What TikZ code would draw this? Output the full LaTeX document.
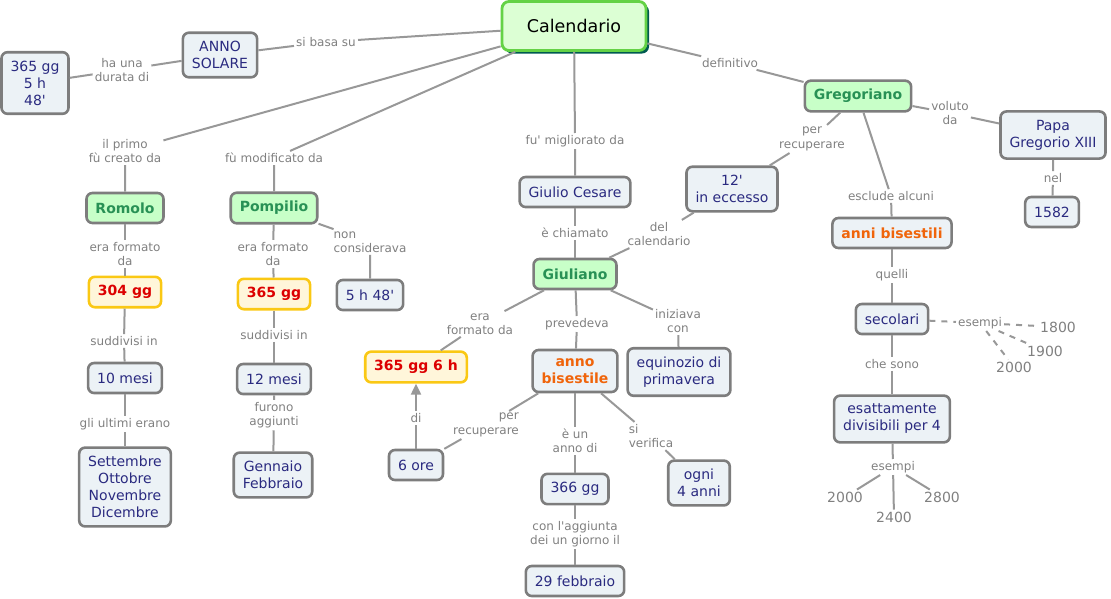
\documentclass[tikz,border=0pt]{standalone}
\usepackage{fontspec}
\setmainfont{DejaVu Sans}
\usepackage{tikz}
\usetikzlibrary{arrows.meta, shadows}
\definecolor{bordo}{RGB}{125,125,125}
\definecolor{sfondo}{RGB}{236,242,246}
\definecolor{blu}{RGB}{42,42,128}
\definecolor{verdino}{RGB}{200,255,200}
\definecolor{verdone}{RGB}{40,145,85}
\definecolor{giallo}{RGB}{250,200,20}
\definecolor{crema}{RGB}{255,246,218}
\definecolor{rosso}{RGB}{220,0,0}
\definecolor{arancio}{RGB}{240,100,10}
\definecolor{grigio}{RGB}{128,128,128}
\definecolor{linea}{RGB}{152,152,152}
\definecolor{radicefill}{RGB}{220,255,212}
\definecolor{radicebordo}{RGB}{100,210,70}
\definecolor{ombra}{RGB}{0,90,80}
\newcommand{\ap}{\textquotesingle}

\tikzset{
    concetto/.style={draw=bordo, line width=2.6pt, rounded corners=6pt, fill=sfondo, text=blu,
        font=\fontsize{14}{17}\selectfont, align=center, inner xsep=9pt, inner ysep=8.5pt, minimum height=30pt},
    persona/.style={concetto, fill=verdino, text=verdone, font=\fontsize{14}{17}\selectfont\bfseries},
    durata/.style={concetto, draw=giallo, fill=crema, text=rosso, font=\fontsize{14}{17}\selectfont\bfseries},
    bisest/.style={concetto, text=arancio, font=\fontsize{14}{17}\selectfont\bfseries},
    radice/.style={draw=radicebordo, line width=2.8pt, rounded corners=7pt, fill=radicefill,
        font=\fontsize{17.5}{20}\selectfont, minimum width=144pt, minimum height=49pt,
        drop shadow={shadow xshift=3pt, shadow yshift=-3pt, fill=ombra, opacity=1}},
    parola/.style={text=grigio, font=\fontsize{12}{14.5}\selectfont, align=center, inner sep=2pt},
    esempio/.style={text=grigio, font=\fontsize{14}{17}\selectfont, inner sep=2pt},
    legame/.style={draw=linea, line width=2pt},
}

\begin{document}
\begin{tikzpicture}[x=1pt, y=-1pt]
    \useasboundingbox (0,0) rectangle (1111,598);

    % Concepts
    \node[radice] (cal) at (574,26) {Calendario};
    \node[concetto] (anno) at (220,55) {ANNO\\SOLARE};
    \node[concetto] (durata) at (35,83) {365 gg\\5 h\\48\ap};
    \node[persona] (romolo) at (125,208) {Romolo};
    \node[persona] (pomp) at (274,208) {Pompilio};
    \node[concetto] (cinque) at (370,295) {5 h 48\ap};
    \node[durata] (g304) at (125,292) {304 gg};
    \node[durata] (g365) at (274,294) {365 gg};
    \node[concetto] (m10) at (125,378) {10 mesi};
    \node[concetto] (m12) at (274,379) {12 mesi};
    \node[concetto] (mesiq) at (125,487) {Settembre\\Ottobre\\Novembre\\Dicembre};
    \node[concetto] (genfeb) at (273,475) {Gennaio\\Febbraio};
    \node[concetto] (giulio) at (575,192) {Giulio Cesare};
    \node[persona] (giuliano) at (575,274) {Giuliano};
    \node[durata] (g365h) at (416,367) {365 gg 6 h};
    \node[concetto] (ore) at (416,465) {6 ore};
    \node[bisest] (bis) at (575,371) {anno\\bisestile};
    \node[concetto] (equi) at (679,372) {equinozio di\\primavera};
    \node[concetto] (g366) at (575,489) {366 gg};
    \node[concetto] (ogni) at (699,483) {ogni\\4 anni};
    \node[concetto] (feb29) at (575,581) {29 febbraio};
    \node[persona] (greg) at (858,96) {Gregoriano};
    \node[concetto] (papa) at (1053,135) {Papa\\Gregorio XIII};
    \node[concetto] (a1582) at (1052,212) {1582};
    \node[concetto] (eccesso) at (732,189) {12\ap\\in eccesso};
    \node[bisest] (anni) at (892,233) {anni bisestili};
    \node[concetto] (sec) at (892,319) {secolari};
    \node[concetto] (div) at (892,419) {esattamente\\divisibili per 4};

    % Examples
    \node[esempio] (n1800) at (1058,327) {1800};
    \node[esempio] (n1900) at (1045,351) {1900};
    \node[esempio] (n2000a) at (1014,367) {2000};
    \node[esempio] (n2000b) at (845,497) {2000};
    \node[esempio] (n2400) at (894,517) {2400};
    \node[esempio] (n2800) at (942,497) {2800};

    % Linking phrases
    \node[parola] (l1) at (326,42) {si basa su};
    \node[parola] (l2) at (122,70) {ha una\\durata di};
    \node[parola] (l3) at (125,151) {il primo\\fù creato da};
    \node[parola] (l4) at (274,158) {fù modificato da};
    \node[parola] (l5) at (125,254) {era formato\\da};
    \node[parola] (l6) at (273,254) {era formato\\da};
    \node[parola, align=left] (l7) at (370,242) {non\\considerava};
    \node[parola] (l8) at (124,341) {suddivisi in};
    \node[parola] (l9) at (274,335) {suddivisi in};
    \node[parola] (l10) at (125,424) {gli ultimi erano};
    \node[parola] (l11) at (274,415) {furono\\aggiunti};
    \node[parola] (l12) at (575,141) {fu\ap{} migliorato da};
    \node[parola] (l13) at (575,233) {è chiamato};
    \node[parola] (l14) at (480,324) {era\\formato da};
    \node[parola] (l15) at (577,324) {prevedeva};
    \node[parola] (l16) at (678,321) {iniziava\\con};
    \node[parola] (l17) at (659,234) {del\\calendario};
    \node[parola] (l18) at (416,418) {di};
    \node[parola, align=right] (l19) at (486,425) {per\\recuperare};
    \node[parola] (l20) at (575,441) {è un\\anno di};
    \node[parola, align=left] (l21) at (651,436) {si\\verifica};
    \node[parola] (l22) at (575,534) {con l\ap aggiunta\\dei un giorno il};
    \node[parola] (l23) at (730,63) {definitivo};
    \node[parola] (l24) at (950,113) {voluto\\da};
    \node[parola] (l25) at (1053,178) {nel};
    \node[parola] (l26) at (812,139) {per\\recuperare};
    \node[parola] (l27) at (891,196) {esclude alcuni};
    \node[parola] (l28) at (892,275) {quelli};
    \node[parola] (l29) at (892,364) {che sono};
    \node[parola] (l30) at (980,323) {esempi};
    \node[parola] (l31) at (893,467) {esempi};

    % Connections
    \foreach \a/\l/\b in {cal/l1/anno, anno/l2/durata, cal/l3/romolo, cal/l4/pomp,
        romolo/l5/g304, pomp/l6/g365, pomp/l7/cinque, g304/l8/m10, g365/l9/m12,
        m10/l10/mesiq, m12/l11/genfeb, cal/l12/giulio, giulio/l13/giuliano,
        giuliano/l14/g365h, giuliano/l15/bis, giuliano/l16/equi, giuliano/l17/eccesso,
        bis/l19/ore, bis/l20/g366, bis/l21/ogni, g366/l22/feb29, cal/l23/greg,
        greg/l24/papa, papa/l25/a1582, greg/l26/eccesso, greg/l27/anni,
        anni/l28/sec, sec/l29/div} {
        \draw[legame] (\a) -- (\l) (\l) -- (\b);
    }
    \draw[legame] (ore) -- (l18);
    \draw[legame, -{Triangle[length=11pt, width=10pt]}] (l18) -- (g365h);

    % Examples
    \draw[legame, dash pattern=on 6pt off 6pt] (sec) -- (l30);
    \foreach \n in {n1800, n1900, n2000a}
        \draw[legame, dash pattern=on 6pt off 6pt] (l30) -- (\n);
    \draw[legame] (div) -- (l31);
    \foreach \n in {n2000b, n2400, n2800}
        \draw[legame] (l31) -- (\n);
\end{tikzpicture}
\end{document}
